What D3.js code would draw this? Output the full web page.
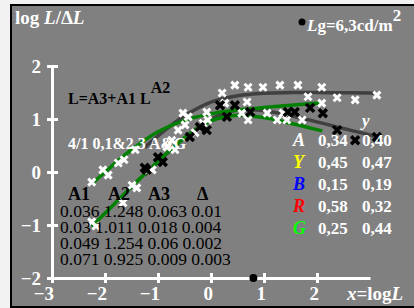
<!DOCTYPE html>
<html>
<head>
<meta charset="utf-8">
<script src="https://cdn.jsdelivr.net/npm/d3@7"></script>
<style>
  html, body { margin: 0; padding: 0; background: #f2f2f2; }
  svg { display: block; font-family: "Liberation Serif", "Times New Roman", serif; }
</style>
</head>
<body>
<svg id="chart" width="414" height="308"></svg>
<script>
// ---- data --------------------------------------------------------
const xTicks = [-3, -2, -1, 0, 1, 2];
const yTicks = [-2, -1, 0, 1, 2];

// fit parameters, one row per curve: L = A3 + A1 L^A2
const A1 = ["0.036", "0.03", "0.049", "0.071"];
const A2 = ["1.248", "1.011", "1.254", "0.925"];
const A3 = ["0.063", "0.018", "0.06", "0.009"];
const DELTA = ["0.01", "0.004", "0.002", "0.003"];

// curves (x = log L, y = log L/ΔL)
const curveGray1 = [[-1.25, -0.06], [-1, 0.19], [-0.5, 0.645], [0, 1.0], [0.5, 1.17], [1, 1.155],
                    [1.5, 1.06], [2, 0.945], [2.5, 0.82], [3, 0.70], [3.1, 0.675]];
const curveGray2 = [[-1.25, 0.46], [-1, 0.68], [-0.5, 1.06], [0, 1.32], [0.5, 1.44], [1, 1.487],
                    [1.5, 1.498], [2, 1.498], [2.5, 1.495], [3, 1.49], [3.1, 1.488]];
const curveGreen1 = [[-2.25, -1.03], [-2, -0.78], [-1.5, -0.28], [-1, 0.20], [-0.5, 0.645], [0, 0.963],
                     [0.5, 1.07], [1, 1.027], [1.5, 0.92], [2, 0.80], [2.1, 0.775]];
const curveGreen2 = [[-2.25, -0.23], [-2, 0.0], [-1.5, 0.42], [-1, 0.76], [-0.5, 0.975], [0, 1.097],
                     [0.5, 1.168], [1, 1.217], [1.5, 1.259], [2, 1.298], [2.1, 1.306]];

const whitePts = [[-2.25, -0.19], [-2.04, 0.04], [-1.94, -0.06], [-1.75, 0.17], [-1.64, 0.23], [-1.43, 0.42],
  [-2.25, -0.94], [-2.17, -1.02], [-1.66, -0.58], [-1.49, -0.25], [-1.40, -0.30], [-1.19, 0.04], [-1.11, 0.04],
  [-0.83, 0.47], [-0.74, 0.60], [-0.62, 0.79], [-0.49, 0.89], [-0.68, 0.42], [-0.53, 1.11], [-0.43, 1.04],
  [-0.30, 0.74], [-0.15, 0.92], [-0.08, 1.13], [-0.06, 0.98], [0.21, 1.49], [0.26, 1.30], [0.45, 1.64],
  [0.58, 1.11], [0.68, 1.32], [0.70, 1.60], [0.70, 0.98], [0.98, 1.60], [1.06, 1.11], [1.25, 0.98],
  [1.30, 1.64], [1.36, 1.11], [1.43, 0.98], [1.64, 1.64], [1.72, 0.98], [1.83, 1.42], [2.09, 1.60],
  [2.09, 1.30], [2.38, 1.40], [2.72, 1.36], [3.13, 1.45]];
const blackPts = [[-1.25, 0.08], [-1.21, 0.04], [-1.00, 0.28], [-0.91, 0.19], [-0.40, 0.66], [-0.21, 0.85],
  [-0.08, 0.79], [0.17, 1.26], [0.30, 1.04], [0.45, 1.26], [0.74, 1.13], [1.45, 1.13], [1.58, 1.13],
  [1.87, 1.21], [2.11, 1.11], [2.38, 0.79], [2.72, 0.60], [3.13, 0.66]];

const logLg = 0.8; // Lg = 6,3 cd/m2

const legendLetters = ["A", "Y", "B", "R", "G"];
const legendX = ["0,34", "0,45", "0,15", "0,58", "0,25"];
const legendY = ["0,40", "0,47", "0,19", "0,32", "0,44"];
const legendColors = ["#ffffff", "#ffff00", "#0000ff", "#ff0000", "#00ff00"];

// ---- frame -------------------------------------------------------
const svg = d3.select("#chart");
svg.append("rect").attr("x", 11).attr("y", 5).attr("width", 420).attr("height", 302)
  .attr("fill", "#808080").attr("stroke", "#000").attr("stroke-width", 2);

const x = d3.scaleLinear().domain([-3, 3]).range([52, 370]);
const y = d3.scaleLinear().domain([-2, 2]).range([278, 66]);

// ---- axes --------------------------------------------------------
const xAxis = svg.append("g").attr("transform", `translate(0,${y(-2)})`)
  .call(d3.axisBottom(x).tickValues(xTicks).tickSizeOuter(0).tickFormat(""));
const yAxis = svg.append("g").attr("transform", `translate(${x(-3)},0)`)
  .call(d3.axisLeft(y).tickValues(yTicks).tickSizeOuter(0).tickFormat(""));
[xAxis, yAxis].forEach(g => {
  g.select(".domain").attr("stroke", "#fff").attr("stroke-width", 3);
  g.selectAll(".tick line").attr("stroke", "#fff").attr("stroke-width", 3);
});
xAxis.selectAll(".tick line").attr("y1", -5).attr("y2", 5);
yAxis.selectAll(".tick line").attr("x1", -5).attr("x2", 6);

const fmt = v => (v < 0 ? "\u2212" + Math.abs(v) : String(v));
svg.append("g").selectAll("text").data(xTicks).join("text")
  .attr("x", d => x(d) + 2).attr("y", 300).attr("text-anchor", "end")
  .attr("fill", "#fff").attr("font-size", 19).attr("font-weight", "bold").text(fmt);
svg.append("g").selectAll("text").data(yTicks).join("text")
  .attr("x", 41).attr("y", d => y(d) + 7).attr("text-anchor", "end")
  .attr("fill", "#fff").attr("font-size", 19).attr("font-weight", "bold").text(fmt);

// ---- curves ------------------------------------------------------
const line = d3.line().x(d => x(d[0])).y(d => y(d[1])).curve(d3.curveCatmullRom);
[[curveGray2, "#404040"], [curveGray1, "#404040"], [curveGreen1, "#008000"], [curveGreen2, "#008000"]]
  .forEach(([pts, col]) => {
    svg.append("path").attr("d", line(pts)).attr("fill", "none")
      .attr("stroke", col).attr("stroke-width", 3.5);
  });

// ---- markers -----------------------------------------------------
const cross = s => `M${-s},${-s}L${s},${s}M${-s},${s}L${s},${-s}`;
[[whitePts, "#fff", 3.5, 3], [blackPts, "#000", 4, 3.5]].forEach(([pts, col, s, w]) => {
  svg.append("g").selectAll("path").data(pts).join("path")
    .attr("transform", d => `translate(${x(d[0])},${y(d[1])})`)
    .attr("d", cross(s)).attr("stroke", col).attr("stroke-width", w);
});

svg.append("circle").attr("cx", x(logLg)).attr("cy", y(-2)).attr("r", 4).attr("fill", "#000");

// ---- titles ------------------------------------------------------
const t1 = svg.append("text").attr("x", 15).attr("y", 24).attr("fill", "#fff")
  .attr("font-size", 19).attr("font-weight", "bold");
t1.append("tspan").text("log ");
t1.append("tspan").attr("font-style", "italic").text("L");
t1.append("tspan").text("/\u0394");
t1.append("tspan").attr("font-style", "italic").text("L");

svg.append("circle").attr("cx", 302).attr("cy", 22).attr("r", 3.5).attr("fill", "#000");
const t2 = svg.append("text").attr("x", 307).attr("y", 31).attr("fill", "#fff")
  .attr("font-size", 17).attr("font-weight", "bold");
t2.append("tspan").attr("font-style", "italic").text("L");
t2.append("tspan").text("g=6,3cd/m");
t2.append("tspan").attr("dy", -10).text("2");

const t3 = svg.append("text").attr("x", 347).attr("y", 300).attr("fill", "#fff")
  .attr("font-size", 19).attr("font-weight", "bold");
t3.append("tspan").attr("font-style", "italic").text("x");
t3.append("tspan").text("=log");
t3.append("tspan").attr("font-style", "italic").text("L");

// ---- formula and table -------------------------------------------
const f = svg.append("text").attr("x", 68).attr("y", 104).attr("fill", "#000")
  .attr("font-size", 16).attr("font-weight", "bold");
f.append("tspan").text("L=A3+A1 L");
f.append("tspan").attr("dy", -11).text("A2");

svg.append("text").attr("x", 68).attr("y", 149).attr("fill", "#fff")
  .attr("font-size", 16).attr("font-weight", "bold").text("4/1 0,1&2,3 A&G");

const heads = [["A1", 68], ["A2", 108], ["A3", 148], ["\u0394", 197]];
svg.append("g").selectAll("text").data(heads).join("text")
  .attr("x", d => d[1]).attr("y", 200).attr("fill", "#000")
  .attr("font-size", 18).attr("font-weight", "bold").text(d => d[0]);

svg.append("g").selectAll("text").data(A1.map((a, i) => [a, A2[i], A3[i], DELTA[i]].join(" ")))
  .join("text")
  .attr("x", 60).attr("y", (d, i) => 217 + i * 16).attr("fill", "#000")
  .attr("font-size", 17.5).text(d => d);

// ---- colour legend -----------------------------------------------
svg.append("text").attr("x", 362).attr("y", 126).attr("fill", "#fff")
  .attr("font-size", 17).attr("font-weight", "bold").attr("font-style", "italic").text("y");
const lg = svg.append("g").selectAll("g").data(legendLetters).join("g")
  .attr("transform", (d, i) => `translate(0,${146 + i * 22})`)
  .attr("font-size", 17).attr("font-weight", "bold");
lg.append("text").attr("x", 293).attr("font-style", "italic").attr("font-size", 18)
  .attr("fill", (d, i) => legendColors[i]).text(d => d);
lg.append("text").attr("x", 318).attr("fill", "#fff").text((d, i) => legendX[i]);
lg.append("text").attr("x", 362).attr("fill", "#fff").text((d, i) => legendY[i]);
</script>
</body>
</html>
